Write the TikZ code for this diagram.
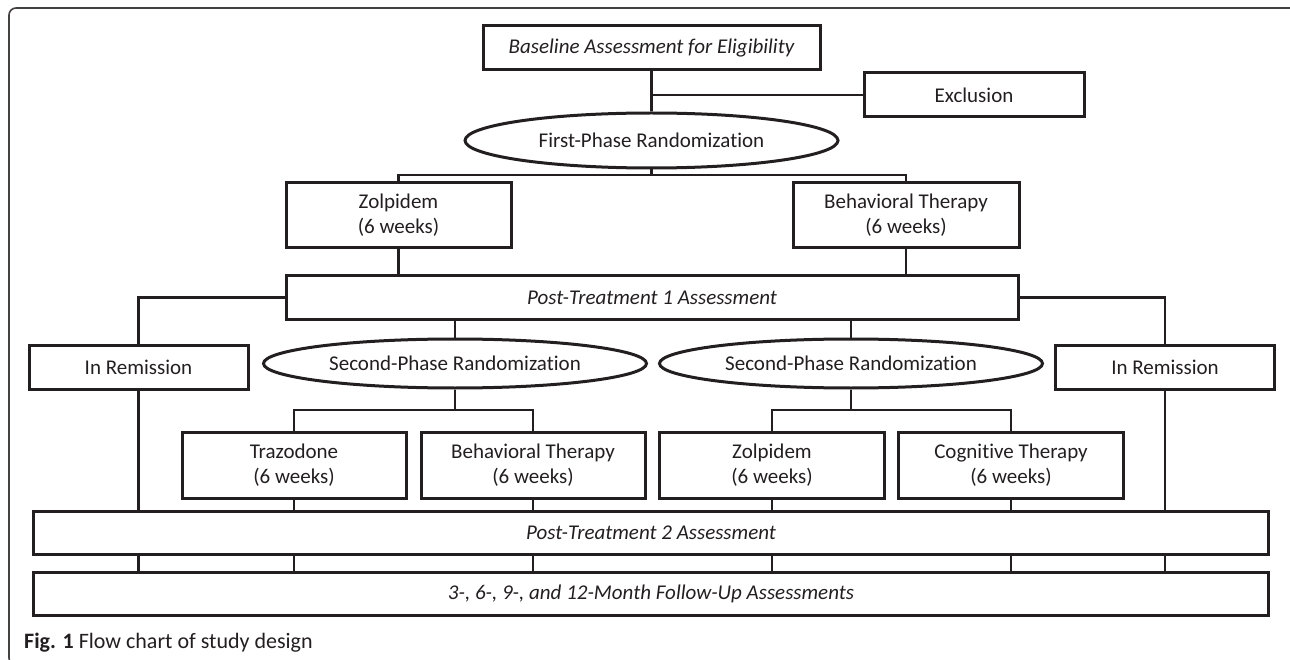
\documentclass[tikz,border=0pt]{standalone}
\usepackage{fontspec}
\setmainfont{Carlito}[Ligatures=NoCommon]
\usetikzlibrary{shapes.geometric}
\definecolor{ink}{HTML}{231F20}

\begin{document}
\begin{tikzpicture}[x=1pt, y=-1pt,
  every node/.style={align=center, inner sep=0pt, text=ink, font=\fontsize{21}{25}\selectfont},
  box/.style={draw=ink, line width=3pt, rectangle},
  oval/.style={draw=ink, line width=3pt, ellipse},
  link/.style={draw=ink, line width=2.6pt}]
\useasboundingbox (0,0) rectangle (1290,660);
\draw[color=ink!85, line width=1.6pt, rounded corners=7pt] (9,8) rectangle (1297,665);

\node (base)   [box, minimum width=337, minimum height=44] at (651.5,48)  {\itshape Baseline Assessment for Eligibility};
\node (excl)   [box, minimum width=220, minimum height=44] at (974,95)    {Exclusion};
\node (rand1)  [oval, minimum width=373, minimum height=55] at (651.5,140.5) {First-Phase Randomization};
\node (zol1)   [box, minimum width=225, minimum height=65] at (398.5,215.5) {Zolpidem\\(6 weeks)};
\node (bt1)    [box, minimum width=226, minimum height=65] at (906,215.5)   {Behavioral Therapy\\(6 weeks)};
\node (post1)  [box, minimum width=732, minimum height=43] at (652,297.5)   {\itshape Post-Treatment 1 Assessment};
\node (remL)   [box, minimum width=219, minimum height=44] at (138.5,367)   {In Remission};
\node (remR)   [box, minimum width=219, minimum height=44] at (1165,367)    {In Remission};
\node (rand2L) [oval, minimum width=383, minimum height=49] at (455,363.5)  {Second-Phase Randomization};
\node (rand2R) [oval, minimum width=383, minimum height=49] at (851,363.5)  {Second-Phase Randomization};
\node (traz)   [box, minimum width=224, minimum height=66] at (294,465)     {Trazodone\\(6 weeks)};
\node (bt2)    [box, minimum width=224, minimum height=66] at (533,465)     {Behavioral Therapy\\(6 weeks)};
\node (zol2)   [box, minimum width=225, minimum height=66] at (772,465)     {Zolpidem\\(6 weeks)};
\node (ct)     [box, minimum width=225, minimum height=66] at (1011,465)    {Cognitive Therapy\\(6 weeks)};
\node (post2)  [box, minimum width=1235, minimum height=43] at (651,532.5) {\itshape Post-Treatment 2 Assessment};
\node (follow) [box, minimum width=1235, minimum height=43] at (651,593.5) {\itshape 3-, 6-, 9-, and 12-Month Follow-Up Assessments};
\node (caption) [anchor=west, font=\fontsize{22}{26}\selectfont] at (24,643) {\textbf{Fig. 1} Flow chart of study design};

\coordinate (bar1)  at (651.5,175);
\coordinate (bar2L) at (455,410);
\coordinate (bar2R) at (851,410);

\draw[link] (base.south) -- (rand1.north);
\draw[link] (excl.west) -- (excl.west -| base.south);
\draw[link] (rand1.south) -- (bar1);
\draw[link] (zol1.north) |- (bar1) -| (bt1.north);
\draw[link] (zol1.south) -- (zol1.south |- post1.north);
\draw[link] (bt1.south) -- (bt1.south |- post1.north);
\draw[link] (post1.west) -| (remL.north);
\draw[link] (post1.east) -| (remR.north);
\draw[link] (rand2L.north |- post1.south) -- (rand2L.north);
\draw[link] (rand2R.north |- post1.south) -- (rand2R.north);
\draw[link] (rand2L.south) -- (bar2L);
\draw[link] (rand2R.south) -- (bar2R);
\draw[link] (traz.north) |- (bar2L) -| (bt2.north);
\draw[link] (zol2.north) |- (bar2R) -| (ct.north);
\foreach \n in {remL,remR,traz,bt2,zol2,ct}
  \draw[link] (\n.south) -- (\n.south |- post2.north);
\foreach \n in {remL,traz,bt2,zol2,ct,remR}
  \draw[link] (\n.south |- post2.south) -- (\n.south |- follow.north);
\end{tikzpicture}
\end{document}
